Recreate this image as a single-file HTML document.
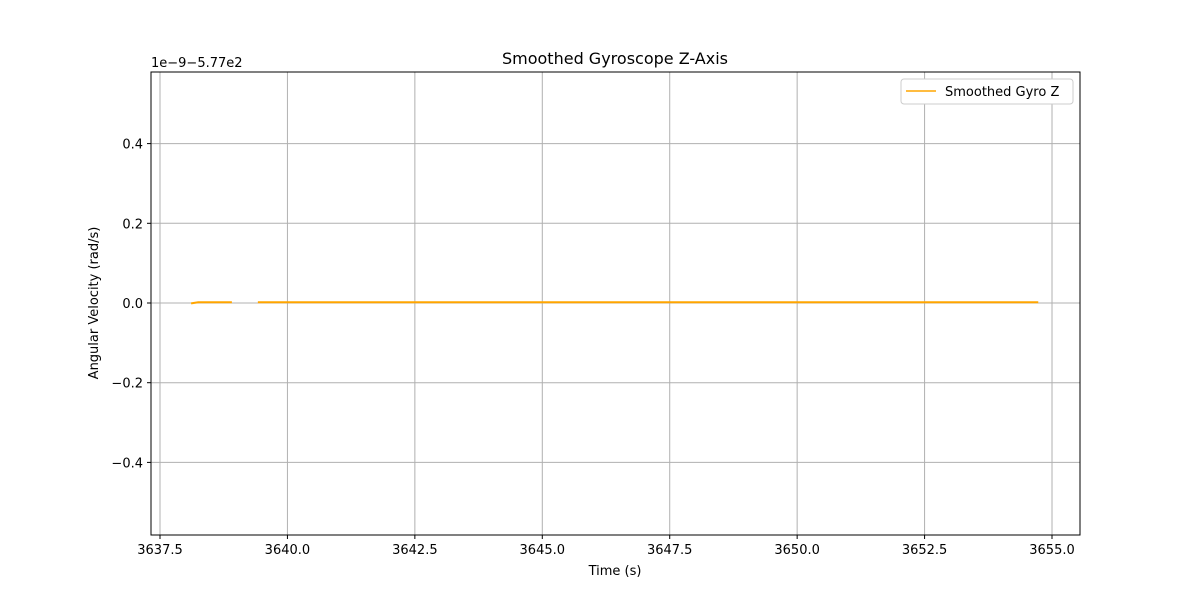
<!DOCTYPE html>
<html><head><meta charset="utf-8"><style>
body{margin:0;background:#fff;font-family:"Liberation Sans","DejaVu Sans",sans-serif;}
svg text{font-family:"DejaVu Sans","Liberation Sans",sans-serif;}
</style></head><body>
<svg id="chart" width="1200" height="600" xmlns="http://www.w3.org/2000/svg">
<rect width="1200" height="600" fill="#fff"/>
<g id="grid"></g><g id="ticks"></g><g id="series"></g>
<rect x="151" y="72" width="929" height="463" fill="none" stroke="#000" stroke-width="1"/>
<text x="615" y="64" font-size="16" text-anchor="middle">Smoothed Gyroscope Z-Axis</text>
<text x="615" y="575" font-size="13" text-anchor="middle">Time (s)</text>
<text transform="translate(98,303) rotate(-90)" font-size="13" text-anchor="middle">Angular Velocity (rad/s)</text>
<text x="151" y="67" font-size="13">1e−9−5.77e2</text>
<g>
<rect x="901" y="79" width="172" height="25" rx="3" fill="#fff" stroke="#ccc"/>
<line x1="906" y1="91" x2="936" y2="91" stroke="orange" stroke-width="1.5"/>
<text x="945" y="96" font-size="13">Smoothed Gyro Z</text>
</g>
</svg>
<script>
const xTicks=[3637.5,3640.0,3642.5,3645.0,3647.5,3650.0,3652.5,3655.0];
const yTicks=[-0.4,-0.2,0.0,0.2,0.4];
const seg1Time=[3638.11,3638.25,3638.91];
const seg1Val=[-0.001,0.002,0.002];
const seg2Time=[3639.42,3645.0,3650.0,3654.73];
const seg2Val=[0.002,0.002,0.002,0.002];
const L=151,R=1080,T=72,B=535;
function xs(v){return 160+(v-3637.5)/2.5*127.43;}
function ys(v){return 303-v/0.2*79.7;}
const ns="http://www.w3.org/2000/svg";
function mk(t,a,p){const e=document.createElementNS(ns,t);for(const k in a)e.setAttribute(k,a[k]);p.appendChild(e);return e;}
const g=document.getElementById('grid'),tk=document.getElementById('ticks'),s=document.getElementById('series');
xTicks.forEach(v=>{const x=xs(v);
const l=mk('line',{x1:x,x2:x,y1:T,y2:B,stroke:'#b0b0b0','stroke-width':1},g);


mk('line',{x1:x,x2:x,y1:B,y2:B+4,stroke:'#000'},tk);
const t=mk('text',{x:x,y:B+19,'font-size':13,'text-anchor':'middle'},tk);t.textContent=v.toFixed(1);

});
yTicks.forEach(v=>{const y=ys(v);
const l=mk('line',{x1:L,x2:R,y1:y,y2:y,stroke:'#b0b0b0','stroke-width':1},g);


mk('line',{x1:L-4,x2:L,y1:y,y2:y,stroke:'#000'},tk);
const t=mk('text',{x:L-8,y:y+5,'font-size':13,'text-anchor':'end'},tk);t.textContent=(v<0?'−':'')+Math.abs(v).toFixed(1);

});
[[seg1Time,seg1Val],[seg2Time,seg2Val]].forEach(([tt,vv])=>{
const p=mk('polyline',{points:tt.map((t,i)=>xs(t)+','+ys(vv[i])).join(' '),fill:'none',stroke:'orange','stroke-width':2},s);

});
</script>
</body></html>
